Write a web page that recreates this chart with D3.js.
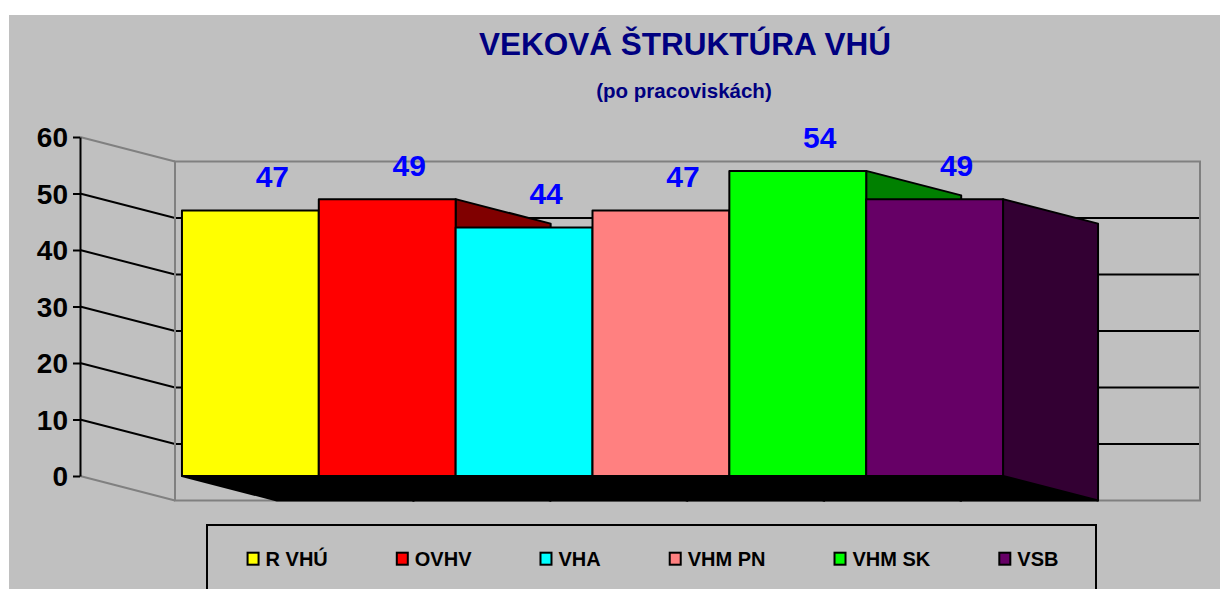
<!DOCTYPE html>
<html>
<head>
<meta charset="utf-8">
<script src="https://cdn.jsdelivr.net/npm/d3@7"></script>
<style>
  body { margin: 0; background: #fff; }
  text { font-family: "Liberation Sans", Arial, sans-serif; font-weight: bold; }
</style>
</head>
<body>
<svg id="chart" width="1220" height="589"></svg>
<script>
// data
const titleText = "VEKOVÁ ŠTRUKTÚRA VHÚ";
const subtitleText = "(po pracoviskách)";
const categories = ["R VHÚ", "OVHV", "VHA", "VHM PN", "VHM SK", "VSB"];
const values = [47, 49, 44, 47, 54, 49];
const yTicks = [0, 10, 20, 30, 40, 50, 60];

// styles
const barColors = ["#FFFF00", "#FF0000", "#00FFFF", "#FF8080", "#00FF00", "#660066"];
const bg = "#C0C0C0";
const wallLine = "#808080";

let svg = d3.select("#chart");

// plot geometry: front plane + oblique depth offset
let left = 80, right = 1105, depthX = 95, depthY = 24.5;

let x = d3.scaleBand()
    .domain(categories)
    .range([left, right])
    .paddingInner(0)
    .paddingOuter(0.745);

let y = d3.scaleLinear()
    .domain([0, 60])
    .range([476, 137]);

// background
svg.append("rect")
    .attr("x", 9).attr("y", 15)
    .attr("width", 1211).attr("height", 574)
    .attr("fill", bg);

// titles
svg.append("text")
    .attr("x", 685).attr("y", 55)
    .attr("text-anchor", "middle")
    .attr("font-size", 31.5)
    .attr("fill", "#000080")
    .text(titleText);

svg.append("text")
    .attr("x", 684).attr("y", 98)
    .attr("text-anchor", "middle")
    .attr("font-size", 20.5)
    .attr("fill", "#000080")
    .text(subtitleText);

// ****** walls ******
let walls = svg.append("g");
let y0 = y(0), yTop = y(60);

// gridlines on side wall and back wall
let inner = yTicks.filter(t => t > 0 && t < 60);
walls.selectAll("path.grid")
    .data(inner)
    .enter().append("path")
    .attr("class", "grid")
    .attr("d", t => `M ${left} ${y(t)} L ${left + depthX} ${y(t) + depthY} L ${right + depthX} ${y(t) + depthY}`)
    .attr("fill", "none")
    .attr("stroke", "#000")
    .attr("stroke-width", 2);

// side wall edges
walls.append("path")
    .attr("d", `M ${left} ${yTop} L ${left + depthX} ${yTop + depthY} M ${left} ${y0} L ${left + depthX} ${y0 + depthY}`)
    .attr("stroke", wallLine)
    .attr("stroke-width", 2)
    .attr("fill", "none");

// back wall
walls.append("rect")
    .attr("x", left + depthX).attr("y", yTop + depthY)
    .attr("width", right - left).attr("height", y0 - yTop)
    .attr("fill", "none")
    .attr("stroke", wallLine)
    .attr("stroke-width", 2);

// ****** bars ******
let bw = x.bandwidth();
let bars = svg.append("g")
    .attr("stroke", "#000")
    .attr("stroke-width", 2)
    .attr("stroke-linejoin", "round");

categories.forEach(function (name, i) {
    let x0 = x(name), x1 = x0 + bw, top = y(values[i]);
    let c = barColors[i];

    // bottom face
    bars.append("path")
        .attr("d", `M ${x0} ${y0} L ${x1} ${y0} L ${x1 + depthX} ${y0 + depthY} L ${x0 + depthX} ${y0 + depthY} Z`)
        .attr("fill", "#000");

    // right side face
    bars.append("path")
        .attr("d", `M ${x1} ${top} L ${x1 + depthX} ${top + depthY} L ${x1 + depthX} ${y0 + depthY} L ${x1} ${y0} Z`)
        .attr("fill", d3.rgb(c).darker(1.94));

    // front face
    bars.append("rect")
        .attr("x", x0).attr("y", top)
        .attr("width", bw).attr("height", y0 - top)
        .attr("fill", c);
});

// data labels
svg.append("g").selectAll("text")
    .data(categories)
    .enter().append("text")
    .attr("x", d => x(d) + bw / 2 + 22)
    .attr("y", (d, i) => y(values[i]) - 23)
    .attr("text-anchor", "middle")
    .attr("font-size", 30)
    .attr("fill", "#0000FF")
    .text((d, i) => values[i]);

// ****** y axis ******
let axis = svg.append("g")
    .attr("transform", `translate(${left},0)`)
    .call(d3.axisLeft(y).tickValues(yTicks).tickSize(7).tickSizeOuter(0).tickPadding(5));

axis.select(".domain").attr("stroke", "#000").attr("stroke-width", 2);
axis.selectAll(".tick line").attr("stroke", "#000").attr("stroke-width", 2);
axis.selectAll(".tick text")
    .attr("font-size", 28)
    .attr("font-family", "Liberation Sans, Arial, sans-serif")
    .attr("font-weight", "bold")
    .attr("fill", "#000")
    .attr("dy", "0.35em");

// ****** legend ******
let boxL = 207, boxR = 1096;
svg.append("rect")
    .attr("x", boxL).attr("y", 525)
    .attr("width", boxR - boxL).attr("height", 100)
    .attr("fill", "none")
    .attr("stroke", "#000")
    .attr("stroke-width", 2);

let legend = svg.append("g");
let items = legend.selectAll("g")
    .data(categories)
    .enter().append("g");

items.append("rect")
    .attr("width", 11).attr("height", 12)
    .attr("y", 552.7)
    .attr("fill", (d, i) => barColors[i])
    .attr("stroke", "#000")
    .attr("stroke-width", 2);

items.append("text")
    .attr("y", 566)
    .attr("font-size", 20)
    .attr("fill", "#000")
    .text(d => d);

// lay items out one after another, then center in the box
let cursor = 0;
items.each(function () {
    let g = d3.select(this);
    let tw = g.select("text").node().getComputedTextLength();
    g.select("rect").attr("x", cursor + 1);
    g.select("text").attr("x", cursor + 19);
    cursor += 19 + tw + 68;
});
let total = cursor - 68;
legend.attr("transform", `translate(${(boxL + boxR) / 2 - total / 2 + 1},0)`);
</script>
</body>
</html>
